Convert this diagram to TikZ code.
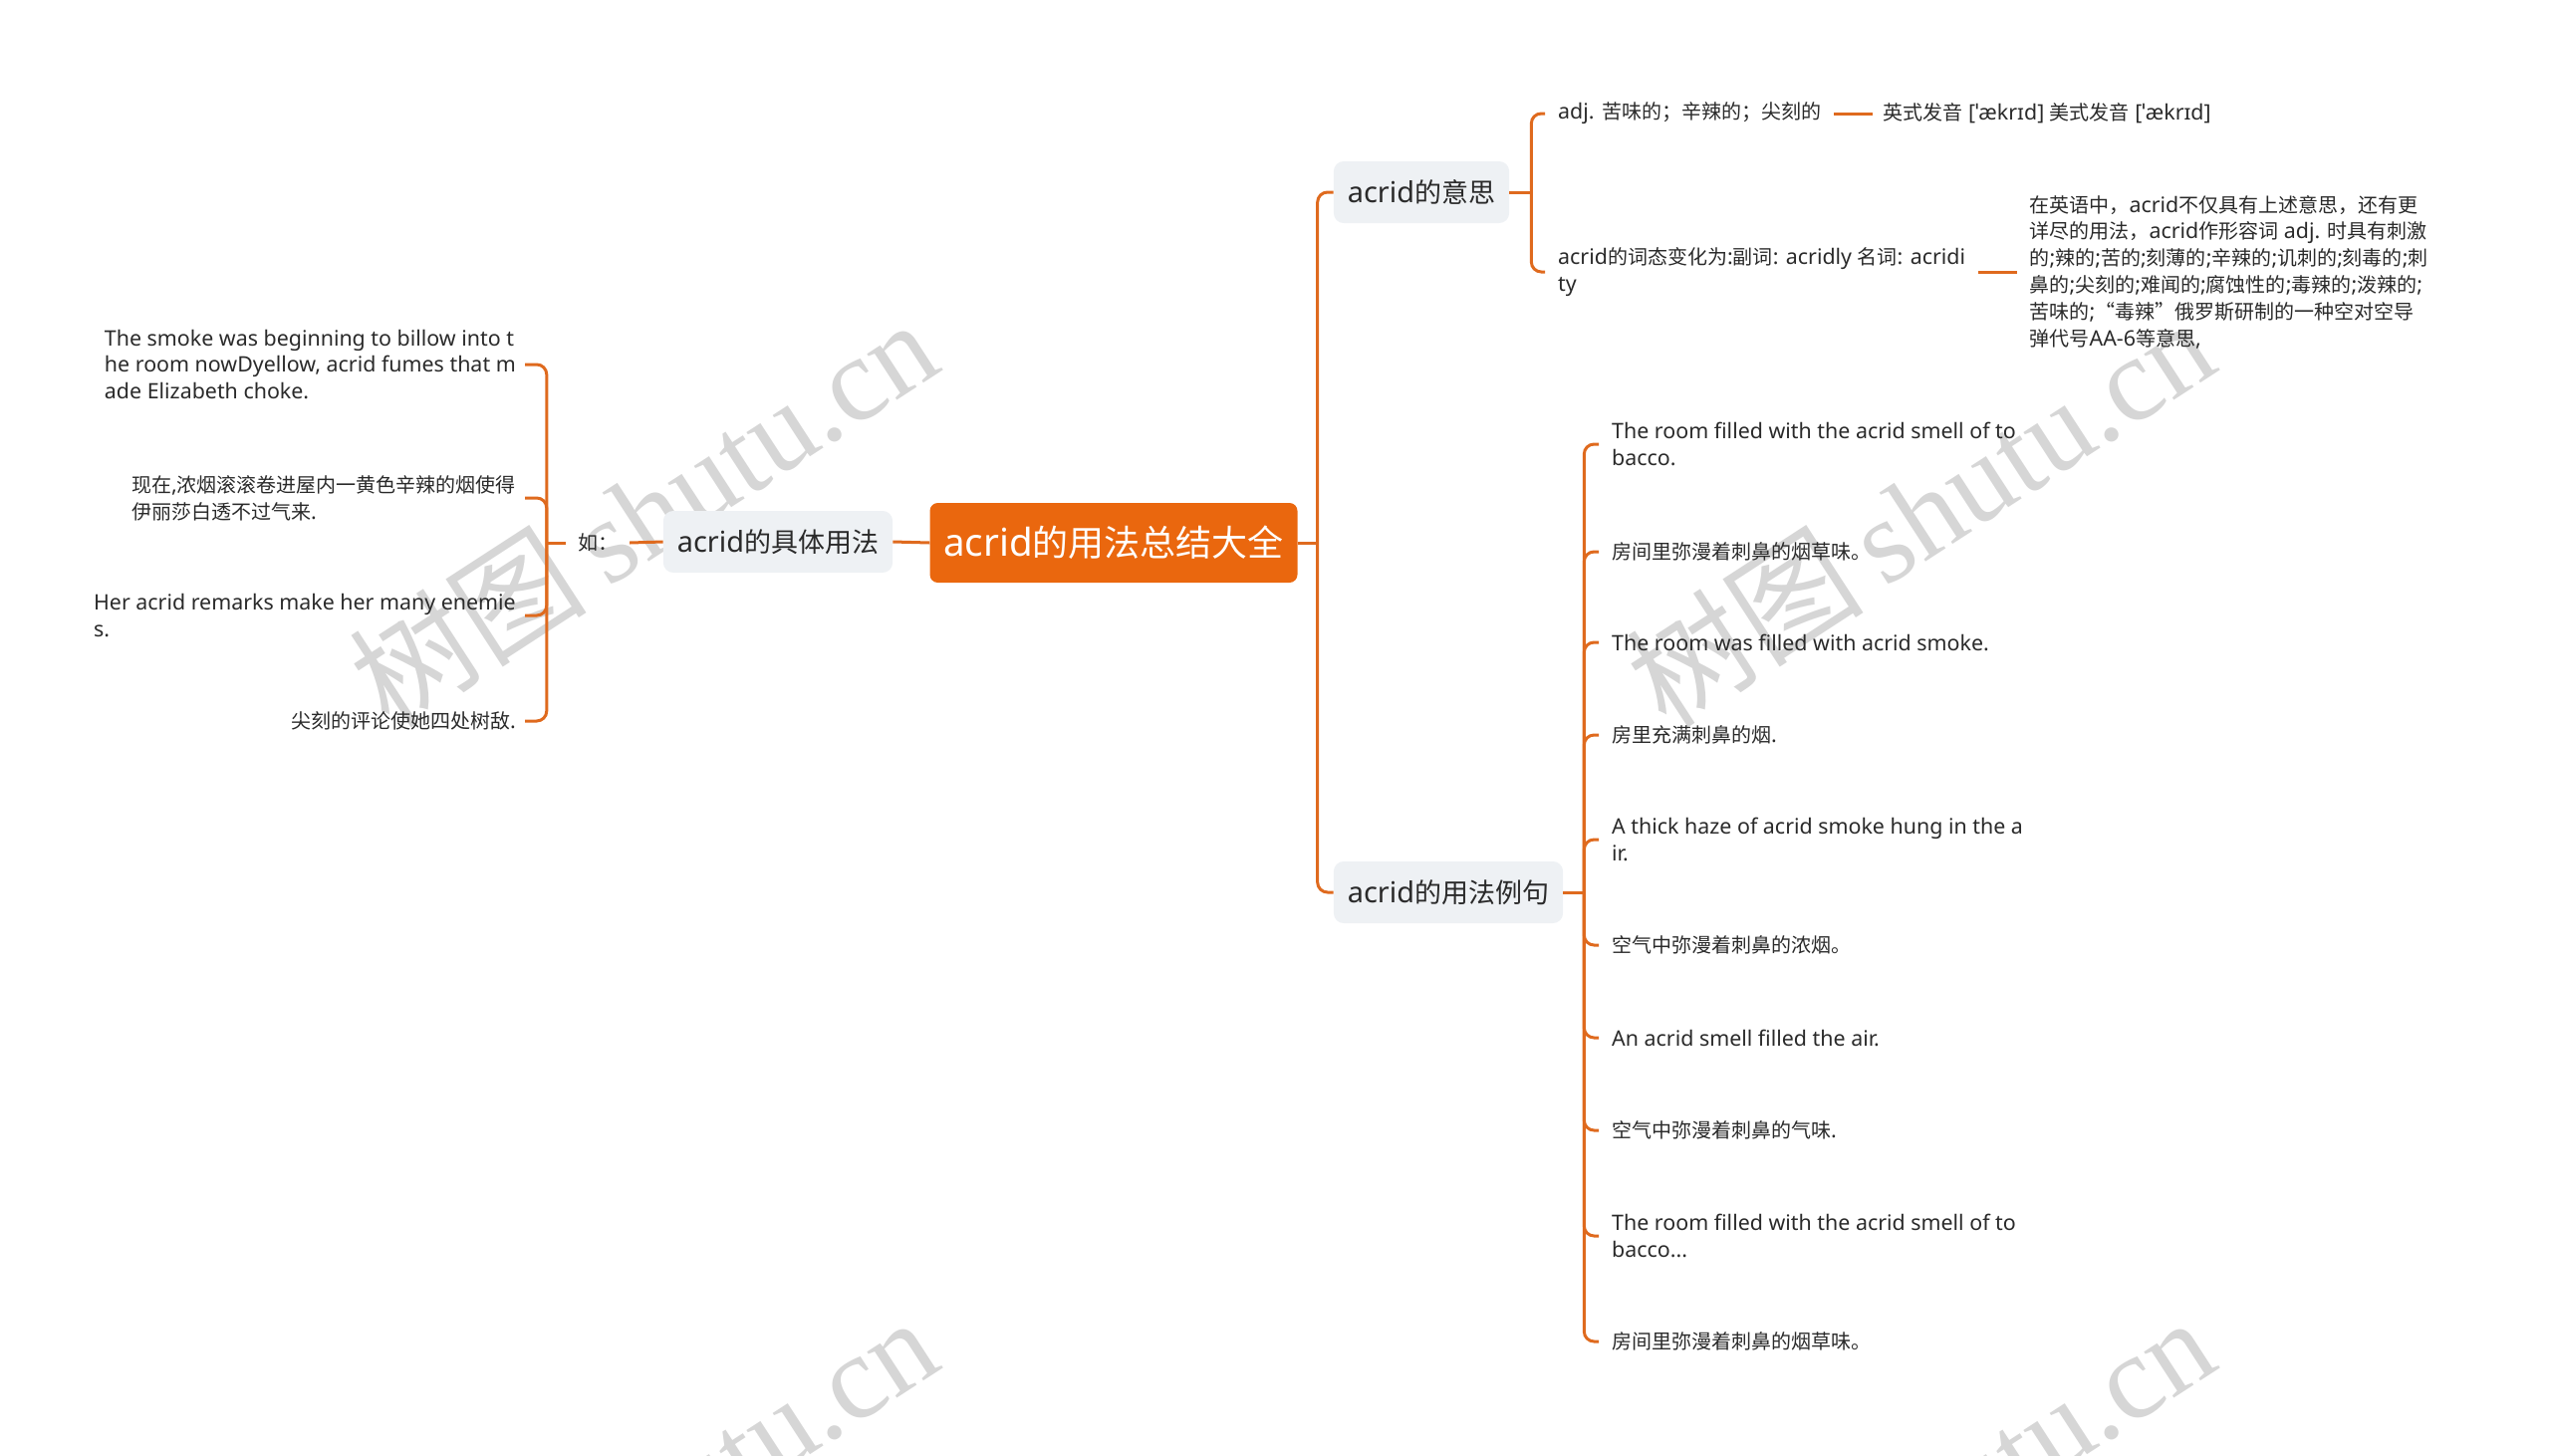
\documentclass[tikz,border=0pt]{standalone}
\usepackage{fontspec}
\setmainfont{Noto Sans}[Scale=1.07]
\newfontfamily\latinfont{Noto Sans}[Scale=1.07]
\newfontfamily\cjkfont{Noto Sans CJK SC}
\newfontfamily\marklatin{Liberation Serif}
\usetikzlibrary{positioning}

% CJK characters switch to the CJK family by themselves
\XeTeXinterchartokenstate=1
\newXeTeXintercharclass\cjkcls
\newcount\cjkidx
\cjkidx="3000
\loop \XeTeXcharclass\cjkidx=\cjkcls \ifnum\cjkidx<"9FFF \advance\cjkidx by 1 \repeat
\cjkidx="FF00
\loop \XeTeXcharclass\cjkidx=\cjkcls \ifnum\cjkidx<"FFEF \advance\cjkidx by 1 \repeat
\XeTeXcharclass"201C=\cjkcls
\XeTeXcharclass"201D=\cjkcls
\XeTeXinterchartoks 0 \cjkcls = {\cjkfont}
\XeTeXinterchartoks 4095 \cjkcls = {\cjkfont}
\XeTeXinterchartoks \cjkcls 0 = {\latinfont}
\XeTeXinterchartoks \cjkcls 4095 = {\latinfont}

\definecolor{rootorange}{HTML}{EA670E}
\definecolor{linkorange}{HTML}{DF6A1E}
\definecolor{topicgray}{HTML}{EEF1F4}
\definecolor{inkgray}{HTML}{2A2A2A}
\definecolor{markgray}{HTML}{D6D6D6}

\tikzset{
  rootbox/.style={fill=rootorange, text=white, rounded corners=8pt, minimum width=369pt, minimum height=80pt, font=\fontsize{36}{40}\selectfont},
  topicbox/.style={fill=topicgray, text=inkgray, rounded corners=10pt, inner xsep=14pt, minimum height=62pt, font=\fontsize{27}{32}\selectfont},
  leaf/.style={text=inkgray, align=left, inner xsep=13pt, inner ysep=3pt, font=\fontsize{20}{26.8}\selectfont},
  link/.style={draw=linkorange, line width=3pt, rounded corners=10pt},
  watermark/.style={text=markgray, rotate=33, inner sep=0pt, font=\fontsize{120}{120}\selectfont}
}

\begin{document}
\begin{tikzpicture}[x=1pt,y=-1pt]
\useasboundingbox (0,0) rectangle (2560,1462);
% watermarks
\begin{scope}
\clip (0,0) rectangle (2560,1462);
\foreach \wx/\wy [count=\i] in {645/514, 1927/514, 645/1516, 1927/1516}
  \node[watermark] (wm\i) at (\wx,\wy) {树图\,{\marklatin shutu.cn}};
\end{scope}

% centre and left side
\node[rootbox] (root) at (1118,545) {acrid的用法总结大全};
\node[topicbox, minimum width=224pt] (usage) at (781,544) {acrid的具体用法};
\node[leaf, inner xsep=12pt] (ru) at (600,545) {如：};
\node[leaf, anchor=east, inner xsep=9pt] (use1) at (527,366) {The smoke was beginning to billow into t\\he room nowDyellow, acrid fumes that m\\ade Elizabeth choke.};
\node[leaf, anchor=east, inner xsep=9pt] (use2) at (527,500) {现在,浓烟滚滚卷进屋内一黄色辛辣的烟使得\\伊丽莎白透不过气来.};
\node[leaf, anchor=east, inner xsep=9pt] (use3) at (527,618) {Her acrid remarks make her many enemie\\s.};
\node[leaf, anchor=east, inner xsep=9pt] (use4) at (527,724) {尖刻的评论使她四处树敌.};

% meaning branch
\node[topicbox] (meaning) at (1427,193) {acrid的意思};
\node[leaf, anchor=west] (mean1) at (1551,114) {adj. 苦味的；辛辣的；尖刻的};
\node[leaf, right=39pt of mean1, inner xsep=10pt] (pron) {英式发音 [ˈækrɪd] 美式发音 [ˈækrɪd]};
\node[leaf, anchor=west] (mean2) at (1551,273) {acrid的词态变化为:副词: acridly 名词: acridi\\ty};
\node[leaf, right=39pt of mean2, inner xsep=12pt] (detail) {在英语中，acrid不仅具有上述意思，还有更\\详尽的用法，acrid作形容词 adj. 时具有刺激\\的;辣的;苦的;刻薄的;辛辣的;讥刺的;刻毒的;刺\\鼻的;尖刻的;难闻的;腐蚀性的;毒辣的;泼辣的;\\苦味的;“毒辣”俄罗斯研制的一种空对空导\\弹代号AA-6等意思,};

% example branch
\node[topicbox] (examples) at (1454,896) {acrid的用法例句};
\node[leaf, anchor=west] (ex1) at (1605,446) {The room filled with the acrid smell of to\\bacco.};
\node[leaf, anchor=west] (ex2) at (1605,554) {房间里弥漫着刺鼻的烟草味。};
\node[leaf, anchor=west] (ex3) at (1605,645) {The room was filled with acrid smoke.};
\node[leaf, anchor=west] (ex4) at (1605,738) {房里充满刺鼻的烟.};
\node[leaf, anchor=west] (ex5) at (1605,843) {A thick haze of acrid smoke hung in the a\\ir.};
\node[leaf, anchor=west] (ex6) at (1605,949) {空气中弥漫着刺鼻的浓烟。};
\node[leaf, anchor=west] (ex7) at (1605,1042) {An acrid smell filled the air.};
\node[leaf, anchor=west] (ex8) at (1605,1135) {空气中弥漫着刺鼻的气味.};
\node[leaf, anchor=west] (ex9) at (1605,1241) {The room filled with the acrid smell of to\\bacco...};
\node[leaf, anchor=west] (ex10) at (1605,1347) {房间里弥漫着刺鼻的烟草味。};

% connectors
\coordinate (rootR) at ([xshift=20pt]root.east);
\draw[link] (root.east) -- (rootR);
\draw[link] (rootR) |- (meaning.west);
\draw[link] (rootR) |- (examples.west);
\draw[link] (root.west) -- (usage.east);
\draw[link] (usage.west) -- (ru.east);
\coordinate (ruL) at ([xshift=-19pt]ru.west);
\draw[link] (ru.west) -- (ruL);
\foreach \n in {use1,use2,use3,use4}
  \draw[link] (ruL) |- (\n.east);
\coordinate (meanR) at ([xshift=22pt]meaning.east);
\draw[link] (meaning.east) -- (meanR);
\foreach \n in {mean1,mean2}
  \draw[link] (meanR) |- (\n.west);
\draw[link] (mean1.east) -- (pron.west);
\draw[link] (mean2.east) -- (detail.west);
\coordinate (exR) at ([xshift=21pt]examples.east);
\draw[link] (examples.east) -- (exR);
\foreach \i in {1,...,10}
  \draw[link] (exR) |- (ex\i.west);
\end{tikzpicture}
\end{document}
